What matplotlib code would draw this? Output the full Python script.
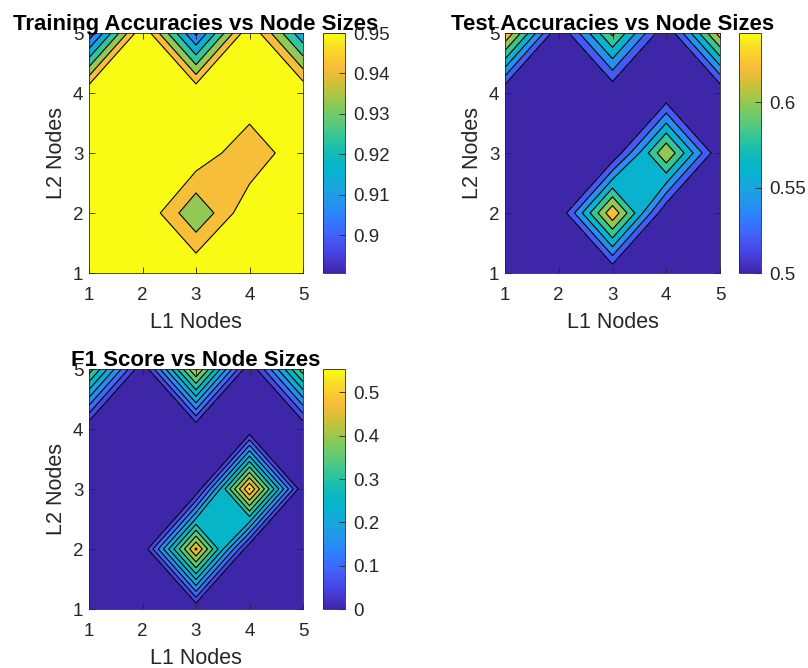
import numpy as np
import matplotlib
matplotlib.use("Agg")
import matplotlib.pyplot as plt
from matplotlib.colors import LinearSegmentedColormap, Normalize
from matplotlib.cm import ScalarMappable
from matplotlib.ticker import FuncFormatter

plt.rcParams['font.family'] = ['Liberation Sans', 'DejaVu Sans']

# ---------------- data ----------------
l1_nodes = [1, 2, 3, 4, 5]
l2_nodes = [1, 2, 3, 4, 5]

# rows: L2 = 1..5, columns: L1 = 1..5
train_acc = [
    [0.950, 0.950, 0.950, 0.950, 0.950],
    [0.950, 0.950, 0.925, 0.9489, 0.950],
    [0.950, 0.950, 0.9489, 0.934, 0.950],
    [0.950, 0.950, 0.950, 0.950, 0.950],
    [0.8906, 0.950, 0.895, 0.950, 0.908],
]
test_acc = [
    [0.500, 0.500, 0.500, 0.500, 0.500],
    [0.500, 0.500, 0.637, 0.500, 0.500],
    [0.500, 0.500, 0.500, 0.620, 0.500],
    [0.500, 0.500, 0.500, 0.500, 0.500],
    [0.6407, 0.500, 0.605, 0.500, 0.630],
]
f1_score = [
    [0.000, 0.000, 0.000, 0.000, 0.000],
    [0.000, 0.000, 0.510, 0.000, 0.000],
    [0.000, 0.000, 0.000, 0.554, 0.000],
    [0.000, 0.000, 0.000, 0.000, 0.000],
    [0.380, 0.000, 0.460, 0.000, 0.380],
]

train_levels = [0.8906, 0.8971, 0.9060, 0.9150, 0.9240, 0.9330, 0.9417, 0.9501]
test_levels = [0.50, 0.52, 0.54, 0.56, 0.58, 0.60, 0.62, 0.64, 0.6408]
f1_levels = [0.00, 0.05, 0.10, 0.15, 0.20, 0.25, 0.30, 0.35, 0.40, 0.45, 0.50, 0.55, 0.5541]

train_cticks = [0.90, 0.91, 0.92, 0.93, 0.94, 0.95]
test_cticks = [0.50, 0.55, 0.60]
f1_cticks = [0.0, 0.1, 0.2, 0.3, 0.4, 0.5]

titles = ["Training Accuracies vs Node Sizes", "Test Accuracies vs Node Sizes",
          "F1 Score vs Node Sizes"]

# ---------------- parula-like colormap ----------------
parula_pts = [
    (0.00, (0.2422, 0.1504, 0.6603)),
    (0.05, (0.2700, 0.2150, 0.8000)),
    (0.10, (0.2810, 0.2850, 0.9100)),
    (0.15, (0.2700, 0.3660, 0.9680)),
    (0.20, (0.2200, 0.4500, 0.9950)),
    (0.25, (0.1650, 0.5250, 0.9750)),
    (0.30, (0.1450, 0.5850, 0.9150)),
    (0.35, (0.1050, 0.6400, 0.8750)),
    (0.40, (0.0500, 0.6800, 0.8400)),
    (0.45, (0.0250, 0.7100, 0.7850)),
    (0.50, (0.0700, 0.7350, 0.7150)),
    (0.55, (0.1700, 0.7650, 0.6300)),
    (0.60, (0.2900, 0.7850, 0.5300)),
    (0.65, (0.4100, 0.7950, 0.4400)),
    (0.70, (0.5300, 0.7900, 0.3500)),
    (0.75, (0.6900, 0.7750, 0.2700)),
    (0.80, (0.8400, 0.7500, 0.2200)),
    (0.85, (0.9600, 0.7350, 0.2350)),
    (0.90, (0.9900, 0.7950, 0.1950)),
    (0.95, (0.9650, 0.8850, 0.1500)),
    (1.00, (0.9769, 0.9839, 0.0805)),
]
parula = LinearSegmentedColormap.from_list("parula", parula_pts, N=256)

# ---------------- layout ----------------
W, H = 808, 668
fig = plt.figure(figsize=(W / 100, H / 100), dpi=100)

def frac(x0, y0, x1, y1):
    return [x0 / W, 1 - y1 / H, (x1 - x0) / W, (y1 - y0) / H]

ax_boxes = [frac(89, 33, 303, 273), frac(505, 33, 720, 273), frac(89, 369, 303, 609)]
cb_boxes = [frac(323, 33, 345, 273), frac(739, 33, 761, 273), frac(323, 369, 345, 609)]

datasets = [train_acc, test_acc, f1_score]
levels_all = [train_levels, test_levels, f1_levels]
cticks_all = [train_cticks, test_cticks, f1_cticks]
use_upper = [True, False, False]

text_col = '#262626'
fmt = FuncFormatter(lambda v, p: ('%g' % round(v, 4)))

X, Y = np.meshgrid(l1_nodes, l2_nodes)
for i in range(3):
    Z = np.array(datasets[i], dtype=float)
    levs = levels_all[i]
    vmin, vmax = Z.min(), Z.max()
    norm = Normalize(vmin=vmin, vmax=vmax, clip=True)
    if use_upper[i]:
        band_vals = levs[1:]
    else:
        band_vals = levs[:-1]
    band_cols = [parula(norm(v)) for v in band_vals]

    ax = fig.add_axes(ax_boxes[i])
    ax.contourf(X, Y, Z, levels=levs, colors=band_cols)
    ax.contour(X, Y, Z, levels=levs[1:-1], colors='k', linewidths=0.8)
    ax.set_xlim(1, 5)
    ax.set_ylim(1, 5)
    ax.set_xticks(l1_nodes)
    ax.set_yticks(l2_nodes)
    ax.tick_params(direction='in', top=True, right=True, length=4, width=0.6,
                   labelsize=13.5, colors=text_col)
    ax.tick_params(axis='x', pad=10)
    ax.tick_params(axis='y', pad=4)
    for s in ax.spines.values():
        s.set_color(text_col)
        s.set_linewidth(0.6)
    ax.set_xlabel("L1 Nodes", fontsize=15.5, color=text_col, labelpad=6)
    ax.set_ylabel("L2 Nodes", fontsize=15.5, color=text_col, labelpad=4)
    ax.set_title(titles[i], fontsize=16, fontweight='bold', pad=2)

    cax = fig.add_axes(cb_boxes[i])
    sm = ScalarMappable(norm=Normalize(vmin=vmin, vmax=vmax), cmap=parula)
    cb = fig.colorbar(sm, cax=cax, ticks=cticks_all[i], format=fmt)
    cb.outline.set_edgecolor(text_col)
    cb.outline.set_linewidth(0.6)
    cax.tick_params(direction='in', length=4, width=0.6, labelsize=13.5,
                    colors=text_col, pad=6)

fig.savefig("out.png", dpi=100)
